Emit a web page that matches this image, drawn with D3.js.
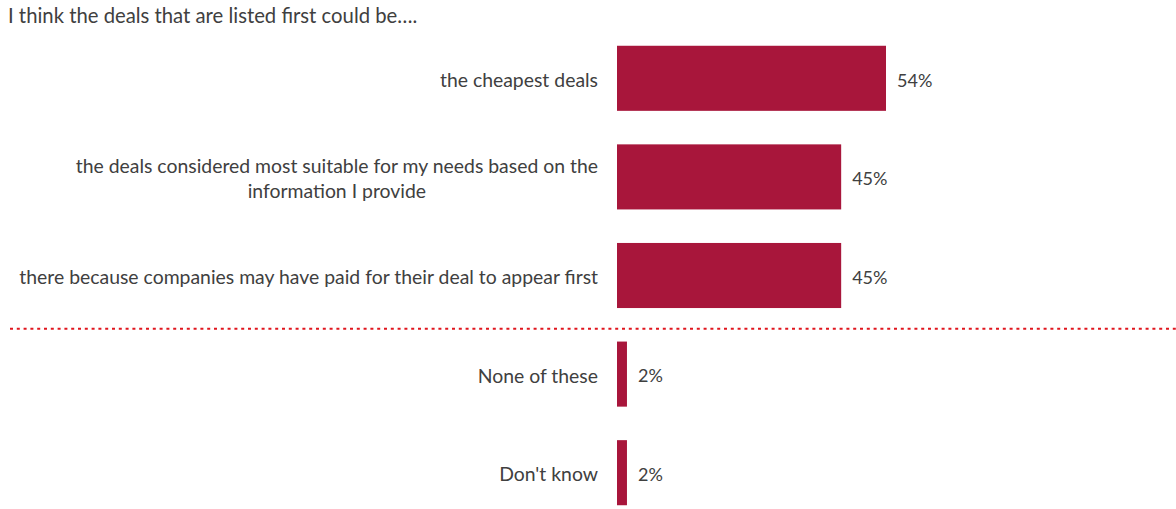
<!DOCTYPE html>
<html>
<head>
<meta charset="utf-8">
<script src="https://cdn.jsdelivr.net/npm/d3@7"></script>
<style>
    body { margin: 0; background: #fff; }
    text { font-family: Lato, "Open Sans", sans-serif; }
</style>
</head>
<body>
<div id="chart"></div>
<script>
var width = 1176,
    height = 509;

// data
var title = "I think the deals that are listed first could be….";
var categories = [
    ["the cheapest deals"],
    ["the deals considered most suitable for my needs based on the", "information I provide"],
    ["there because companies may have paid for their deal to appear first"],
    ["None of these"],
    ["Don't know"]
];
var values = [54, 45, 45, 2, 2];
var splitAfter = 3; // dotted line goes between the main answers and the others

var bar_colour = "#a8163b",
    font_colour = "#404040";

var svg = d3.select("#chart")
    .append("svg")
    .attr("width", width)
    .attr("height", height);

var x = d3.scaleLinear()
    .domain([0, 54])
    .range([617, 886]);

var y = d3.scaleBand()
    .domain(d3.range(values.length))
    .range([29, 522])
    .paddingInner(0.34)
    .paddingOuter(0.17);

svg.append("text")
    .attr("x", 8)
    .attr("y", 23)
    .attr("font-size", 20.3)
    .attr("fill", font_colour)
    .text(title);

svg.selectAll("rect.bar")
    .data(values)
    .enter()
    .append("rect")
    .attr("class", "bar")
    .attr("x", x(0))
    .attr("y", function (d, i) { return y(i); })
    .attr("width", function (d) { return x(d) - x(0); })
    .attr("height", y.bandwidth())
    .attr("fill", bar_colour);

svg.selectAll("text.value")
    .data(values)
    .enter()
    .append("text")
    .attr("class", "value")
    .attr("x", function (d) { return x(d) + 11; })
    .attr("y", function (d, i) { return y(i) + y.bandwidth() / 2 + 2; })
    .attr("dy", "0.35em")
    .attr("font-size", 18)
    .attr("fill", font_colour)
    .text(function (d) { return d + "%"; });

var lineHeight = 25;

var labels = svg.selectAll("text.label")
    .data(categories)
    .enter()
    .append("text")
    .attr("class", "label")
    .attr("font-size", 19.4)
    .attr("fill", font_colour)
    .attr("y", function (d, i) {
        return y(i) + y.bandwidth() / 2 + 2 - (d.length - 1) * lineHeight / 2;
    });

// multi line labels: first line right aligned, rest centred under it
labels.each(function (lines, i) {
    var t = d3.select(this);
    lines.forEach(function (line, j) {
        t.append("tspan")
            .attr("x", 598)
            .attr("dy", j == 0 ? "0.35em" : lineHeight + "px")
            .attr("text-anchor", "end")
            .text(line);
    });
    if (lines.length > 1) {
        var w = t.select("tspan").node().getComputedTextLength();
        t.selectAll("tspan").filter(function (d, j) { return j > 0; })
            .attr("x", 598 - w / 2)
            .attr("text-anchor", "middle");
    }
});

// dotted separator
var sepY = (y(splitAfter - 1) + y.bandwidth() + y(splitAfter)) / 2 + 4;
svg.append("line")
    .attr("x1", 10)
    .attr("x2", width)
    .attr("y1", sepY)
    .attr("y2", sepY)
    .attr("stroke", "#e0161e")
    .attr("stroke-width", 2)
    .attr("stroke-dasharray", "3,3.8");
</script>
</body>
</html>
